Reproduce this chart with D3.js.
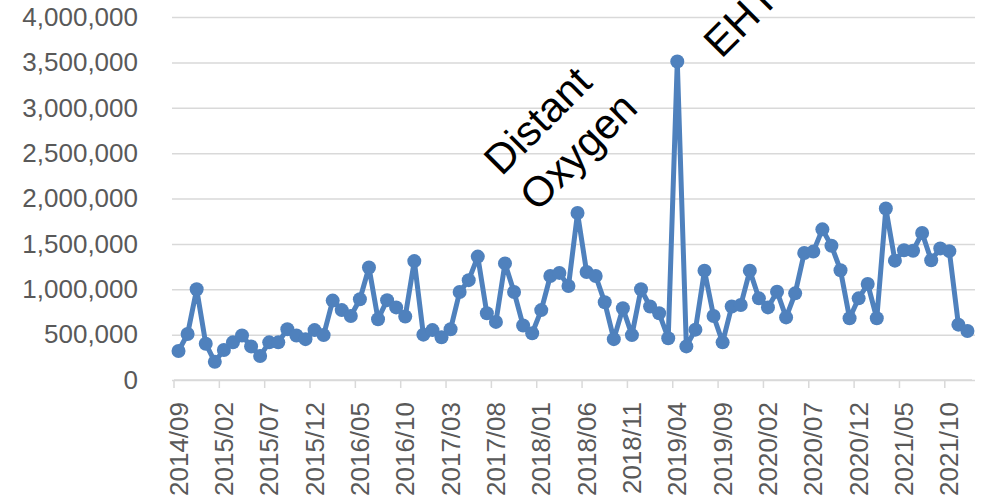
<!DOCTYPE html>
<html>
<head>
<meta charset="utf-8">
<script src="https://cdn.jsdelivr.net/npm/d3@7"></script>
<style>
  body { margin: 0; background: #fff; }
  svg { display: block; font-family: "Liberation Sans", Arial, sans-serif; }
</style>
</head>
<body>
<div id="chart"></div>
<script>
// monthly series, 2014/09 .. 2021/12
const startMonth = new Date(2014, 8, 1);
const values = [
    320000, 507000, 1000000, 400000, 200000, 330000, 415000, 490000, 370000, 265000,
    415000, 415000, 560000, 490000, 450000, 550000, 495000, 875000, 770000, 705000,
    890000, 1240000, 670000, 880000, 800000, 700000, 1310000, 500000, 550000, 470000,
    560000, 970000, 1100000, 1360000, 735000, 640000, 1285000, 970000, 600000, 515000,
    770000, 1146000, 1180000, 1035000, 1840000, 1190000, 1146000, 856000, 450000, 790000,
    495000, 1000000, 810000, 735000, 460000, 3510000, 370000, 555000, 1205000, 705000,
    415000, 810000, 826000, 1205000, 900000, 800000, 973000, 690000, 955000, 1400000,
    1415000, 1660000, 1480000, 1210000, 680000, 900000, 1058000, 680000, 1890000, 1315000,
    1430000, 1425000, 1620000, 1320000, 1450000, 1420000, 610000, 540000
];
const yTicks = [0, 500000, 1000000, 1500000, 2000000, 2500000, 3000000, 3500000, 4000000];
const tickEvery = 5;
const notes = [
    { month: '2018/05', lines: ['Distant', 'Oxygen'], dx: -76, dy: -36 },
    { month: '2019/04', lines: ['EHT'], dx: 44, dy: -2 }
];

const fmtMonth = d3.timeFormat('%Y/%m');
const months = d3.timeMonth.range(startMonth, d3.timeMonth.offset(startMonth, values.length)).map(fmtMonth);
const data = months.map((m, i) => ({ month: m, value: values[i] }));

const width = 984, height = 504;
const plotLeft = 174, plotRight = 972, plotTop = 17, plotBottom = 380;

const svg = d3.select('#chart')
    .append('svg')
    .attr('width', width)
    .attr('height', height);

const x = d3.scaleBand()
    .domain(months)
    .range([plotLeft, plotRight]);

const y = d3.scaleLinear()
    .domain([0, 4000000])
    .range([plotBottom, plotTop]);

// gridlines + y labels
const yAxis = svg.append('g')
    .attr('transform', 'translate(' + plotLeft + ',0)')
    .call(d3.axisLeft(y).tickValues(yTicks).tickSize(-(plotRight + 3 - plotLeft)).tickPadding(36)
        .tickFormat(d3.format(',')));
yAxis.select('.domain').remove();
yAxis.selectAll('.tick line')
    .attr('stroke', '#d9d9d9')
    .attr('stroke-width', 1.5)
    .attr('x1', -2);
yAxis.selectAll('.tick text')
    .attr('fill', '#595959')
    .style('font-size', '26px')
    .style('font-family', '"Liberation Sans", Arial, sans-serif');

// x axis: labels at band centres, ticks at band edges
const shown = months.filter((m, i) => i % tickEvery === 0);
const xAxis = svg.append('g')
    .attr('transform', 'translate(0,' + plotBottom + ')')
    .call(d3.axisBottom(x).tickValues(shown).tickSize(0).tickPadding(0));
xAxis.select('.domain')
    .attr('stroke', '#d9d9d9')
    .attr('stroke-width', 1.5)
    .attr('d', 'M' + plotLeft + ',0H' + plotRight);
xAxis.selectAll('.tick text')
    .attr('fill', '#595959')
    .style('font-size', '26px')
    .style('font-family', '"Liberation Sans", Arial, sans-serif')
    .attr('transform', 'rotate(-90)')
    .attr('text-anchor', 'end')
    .attr('x', -22)
    .attr('y', 0)
    .attr('dy', '0.35em');

svg.append('g')
    .selectAll('line')
    .data(shown)
    .enter()
    .append('line')
    .attr('x1', d => x(d))
    .attr('x2', d => x(d))
    .attr('y1', plotBottom)
    .attr('y2', plotBottom + 8)
    .attr('stroke', '#d9d9d9')
    .attr('stroke-width', 1.5);

// series
const line = d3.line()
    .x(d => x(d.month) + x.bandwidth() / 2)
    .y(d => y(d.value));

svg.append('path')
    .datum(data)
    .attr('fill', 'none')
    .attr('stroke', '#4f81bd')
    .attr('stroke-width', 5)
    .attr('stroke-linejoin', 'round')
    .attr('d', line);

svg.append('g')
    .selectAll('circle')
    .data(data)
    .enter()
    .append('circle')
    .attr('cx', d => x(d.month) + x.bandwidth() / 2)
    .attr('cy', d => y(d.value))
    .attr('r', 7)
    .attr('fill', '#4f81bd');

// rotated annotations
const byMonth = new Map(data.map(d => [d.month, d]));
notes.forEach(n => {
    const p = byMonth.get(n.month);
    const t = svg.append('text')
        .attr('transform', 'translate(' + (x(p.month) + x.bandwidth() / 2 + n.dx) + ',' + (y(p.value) + n.dy) + ') rotate(-45)')
        .attr('fill', '#000')
        .style('font-size', '42px');
    n.lines.forEach((l, i) => {
        t.append('tspan')
            .attr('x', 0)
            .attr('dy', i === 0 ? 0 : '1.2em')
            .text(l);
    });
});
</script>
</body>
</html>
